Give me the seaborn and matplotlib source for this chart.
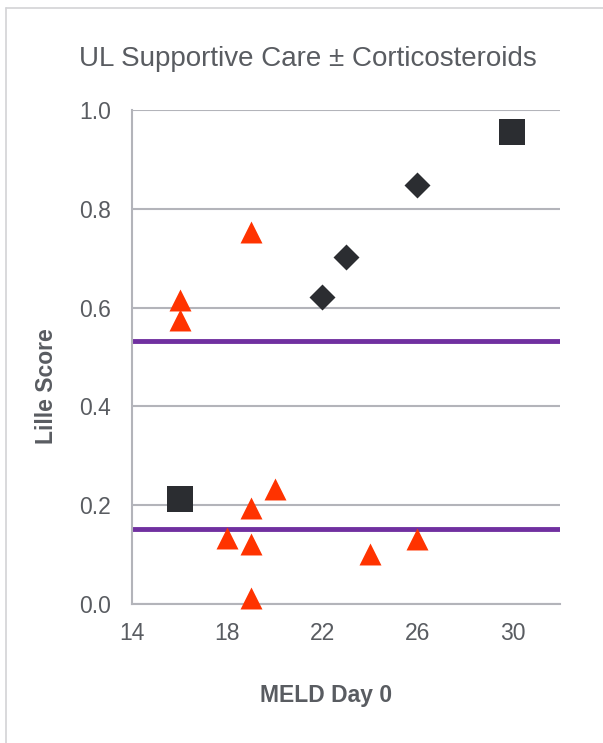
import matplotlib
matplotlib.use("Agg")
import matplotlib.pyplot as plt
import seaborn as sns
import pandas as pd
from matplotlib.lines import Line2D

# Data
tri_x = [16, 16, 19, 18, 19, 19, 19, 20, 24, 26]
tri_y = [0.615, 0.575, 0.753, 0.134, 0.194, 0.121, 0.012, 0.233, 0.101, 0.132]
dia_x = [22, 23, 26]
dia_y = [0.621, 0.703, 0.848]
sq_x = [30, 16]
sq_y = [0.955, 0.213]
thresholds = [0.533, 0.152]
x_ticks = [14, 18, 22, 26, 30]
y_ticks = [0.0, 0.2, 0.4, 0.6, 0.8, 1.0]

df = pd.DataFrame({
    "MELD": tri_x + dia_x + sq_x,
    "Lille": tri_y + dia_y + sq_y,
    "group": ["tri"] * len(tri_x) + ["dia"] * len(dia_x) + ["sq"] * len(sq_x),
})

sns.set_style("white")
plt.rcParams["font.family"] = ["Liberation Sans", "DejaVu Sans"]

text_c = "#595C61"
grid_c = "#B3B4BA"
W, H = 603, 743

fig = plt.figure(figsize=(6.03, 7.43), dpi=100)
ax = fig.add_axes([132/W, 1-604/H, (560-132)/W, (604-110)/H])

for t in thresholds:
    ax.axhline(t, color="#7030A0", lw=3.5, zorder=2)

palette = {"tri": "#FF3300", "dia": "#2B2D31", "sq": "#2B2D31"}
markers = {"tri": "^", "dia": "D", "sq": "s"}
for g, s in [("tri", 250), ("dia", 175), ("sq", 330)]:
    sub = df[df.group == g]
    sns.scatterplot(data=sub, x="MELD", y="Lille", color=palette[g], marker=markers[g],
                    s=s, linewidth=0, ax=ax, zorder=3, legend=False, clip_on=False)

ax.set_xlim(14, 32)
ax.set_ylim(0, 1.0)
ax.set_xticks(x_ticks)
ax.set_yticks(y_ticks)
ax.set_yticklabels([f"{v:.1f}" for v in y_ticks])
ax.yaxis.grid(True, color=grid_c, lw=1.5, zorder=0)
ax.xaxis.grid(False)
ax.set_axisbelow(True)
for side in ["top", "right"]:
    ax.spines[side].set_visible(False)
for side in ["left", "bottom"]:
    ax.spines[side].set_color(grid_c)
    ax.spines[side].set_linewidth(1.5)
ax.tick_params(axis="both", which="major", width=1.5, color=grid_c,
               labelsize=16.5, labelcolor=text_c, direction="out")
ax.tick_params(axis="y", length=5.8, pad=9.4)
ax.tick_params(axis="x", length=5.0, pad=7.7)
ax.set_xlabel("")
ax.set_ylabel("")

fig.text(326/W, 1 - 702/H, "MELD Day 0", fontsize=16.5, fontweight="bold", color=text_c,
         ha="center", va="baseline")
fig.text(53/W, 1 - 386/H, "Lille Score", fontsize=16.5, fontweight="bold", color=text_c,
         ha="center", va="baseline", rotation=90, rotation_mode="anchor")
fig.text(307.5/W, 1 - 66/H, "UL Supportive Care \u00b1 Corticosteroids", fontsize=20,
         color=text_c, ha="center", va="baseline")

# border of the chart area
fig.add_artist(Line2D([5.7/W, 5.7/W], [0, 1 - 8.3/H], transform=fig.transFigure, color="#D3D3D6", lw=1.2))
fig.add_artist(Line2D([5.7/W, 1], [1 - 8.3/H, 1 - 8.3/H], transform=fig.transFigure, color="#D3D3D6", lw=1.2))

fig.savefig("out.png", dpi=100, facecolor="white")
